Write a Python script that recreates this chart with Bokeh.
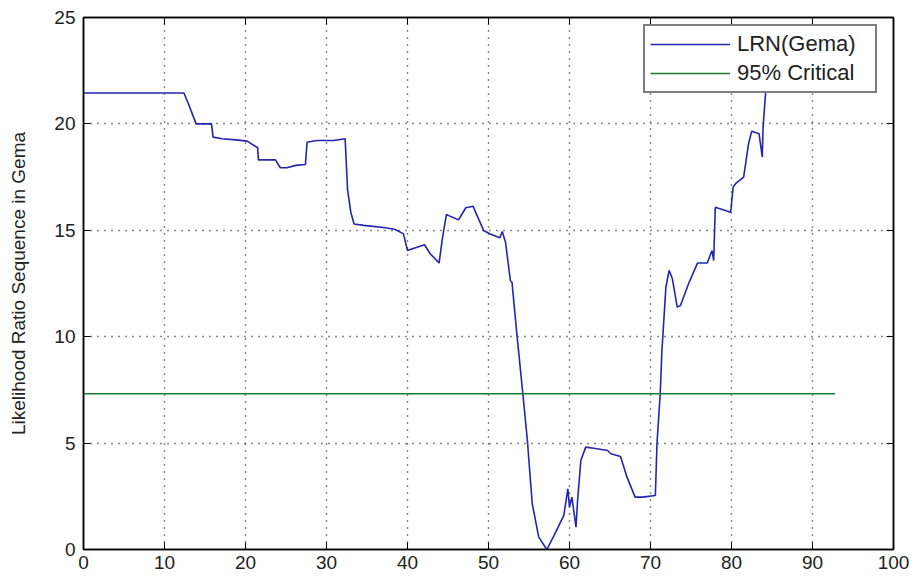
from bokeh.plotting import figure
from bokeh.models import LinearAxis, Range1d, Legend, LegendItem, CustomJSTickFormatter, FixedTicker
from bokeh.embed import file_html
from bokeh.resources import INLINE

# ---- data ----
x_lrn = [0, 12.4, 13.0, 13.5, 13.9, 15.8, 16.0, 17.1, 18.8, 20.2, 21.5, 21.6, 23.7, 24.3, 25.1,
         26.2, 27.4, 27.6, 28.8, 30.9, 32.3, 32.6, 33.0, 33.4, 34.6, 37.3, 38.5, 39.5, 40.0,
         40.8, 42.1, 42.8, 43.9, 44.3, 44.8, 45.5, 46.3, 47.2, 48.1, 48.5, 49.4, 50.2, 51.4,
         51.7, 52.1, 52.7, 52.9, 53.5, 54.2, 54.8, 55.4, 56.2, 57.2, 58.1, 59.3, 59.8, 60.0,
         60.3, 60.8, 61.0, 61.4, 62.0, 63.0, 64.7, 65.1, 66.3, 67.1, 68.1, 69.0, 70.6, 70.8,
         71.2, 71.4, 71.9, 72.3, 72.7, 73.3, 73.7, 74.7, 75.8, 77.0, 77.6, 77.8, 78.0, 79.9,
         80.2, 80.5, 81.5, 82.1, 82.5, 83.4, 83.8, 83.9, 84.2, 84.3]
y_lrn = [21.45, 21.45, 20.9, 20.4, 20.0, 20.0, 19.38, 19.3, 19.25, 19.19, 18.88, 18.31, 18.31, 17.94, 17.94,
         18.05, 18.09, 19.14, 19.22, 19.22, 19.3, 16.9, 15.85, 15.3, 15.23, 15.12, 15.04, 14.83, 14.05,
         14.16, 14.32, 13.9, 13.46, 14.6, 15.74, 15.62, 15.49, 16.06, 16.13, 15.77, 14.99, 14.83, 14.65,
         14.94, 14.44, 12.64, 12.56, 10.13, 7.47, 5.12, 2.15, 0.58, 0.0, 0.66, 1.6, 2.85, 1.99,
         2.46, 1.05, 2.3, 4.18, 4.81, 4.76, 4.65, 4.5, 4.37, 3.4, 2.46, 2.46, 2.54, 4.97,
         7.32, 9.27, 12.33, 13.11, 12.72, 11.39, 11.47, 12.49, 13.46, 13.46, 14.05, 13.58, 16.08, 15.85,
         17.03, 17.19, 17.5, 19.06, 19.66, 19.54, 18.44, 19.85, 21.4, 22.5]
x_crit = [0, 92.8]
y_crit = [7.32, 7.32]
x_ticks = [0, 10, 20, 30, 40, 50, 60, 70, 80, 90, 100]
y_ticks = [0, 5, 10, 15, 20, 25]
y_title = "Likelihood Ratio Sequence in Gema"
labels = ["LRN(Gema)", "95% Critical"]

FONT = "Liberation Sans"

p = figure(width=912, height=578, output_backend="svg", toolbar_location=None,
           x_range=Range1d(0, 100), y_range=Range1d(0, 25),
           min_border_left=83, min_border_right=19, min_border_top=17, min_border_bottom=29)
p.background_fill_color = "white"
p.border_fill_color = "white"
p.outline_line_color = "black"
p.outline_line_width = 1.5

for ax in (p.xaxis[0], p.yaxis[0]):
    ax.major_tick_in = 7
    ax.major_tick_out = 0
    ax.minor_tick_line_color = None
    ax.axis_line_color = "black"
    ax.axis_line_width = 1.5
    ax.major_tick_line_color = "black"
    ax.major_label_text_font = FONT
    ax.major_label_text_font_size = "19px"
    ax.major_label_text_color = "#222222"

p.xaxis[0].ticker = FixedTicker(ticks=x_ticks)
p.yaxis[0].ticker = FixedTicker(ticks=y_ticks)
p.xaxis[0].major_label_standoff = 6
p.yaxis[0].major_label_standoff = 8
p.yaxis[0].axis_label = y_title
p.yaxis[0].axis_label_text_font = FONT
p.yaxis[0].axis_label_text_font_size = "19px"
p.yaxis[0].axis_label_text_font_style = "normal"
p.yaxis[0].axis_label_text_color = "#222222"
p.yaxis[0].axis_label_standoff = 22

# top and right axes: ticks only
for loc, tick in (("above", x_ticks), ("right", y_ticks)):
    ax = LinearAxis(ticker=FixedTicker(ticks=tick),
                    formatter=CustomJSTickFormatter(code="return ''"),
                    major_tick_in=7, major_tick_out=0, minor_tick_line_color=None,
                    major_label_standoff=0, major_label_text_font_size="1px",
                    axis_line_color="black", axis_line_width=1.5)
    p.add_layout(ax, loc)

for g in (p.xgrid[0], p.ygrid[0]):
    g.grid_line_color = "#111111"
    g.grid_line_dash = "1 6"
    g.grid_line_width = 1.4
p.xgrid[0].ticker = FixedTicker(ticks=x_ticks)
p.ygrid[0].ticker = FixedTicker(ticks=y_ticks)

r1 = p.line(x_lrn, y_lrn, line_color="#2424b0", line_width=1.6)
r2 = p.line(x_crit, y_crit, line_color="#1d7a35", line_width=1.5)

legend = Legend(items=[LegendItem(label=labels[0], renderers=[r1]),
                       LegendItem(label=labels[1], renderers=[r2])],
                location=(560, 456), margin=0, padding=5, spacing=3,
                label_height=24, glyph_height=24, glyph_width=80, label_standoff=7,
                label_width=133,
                label_text_font=FONT, label_text_font_size="22px", label_text_color="#222222",
                border_line_color="black", border_line_width=2,
                background_fill_color="white", background_fill_alpha=1.0)
p.add_layout(legend, "center")

open("out.html", "w").write(file_html(p, INLINE))
